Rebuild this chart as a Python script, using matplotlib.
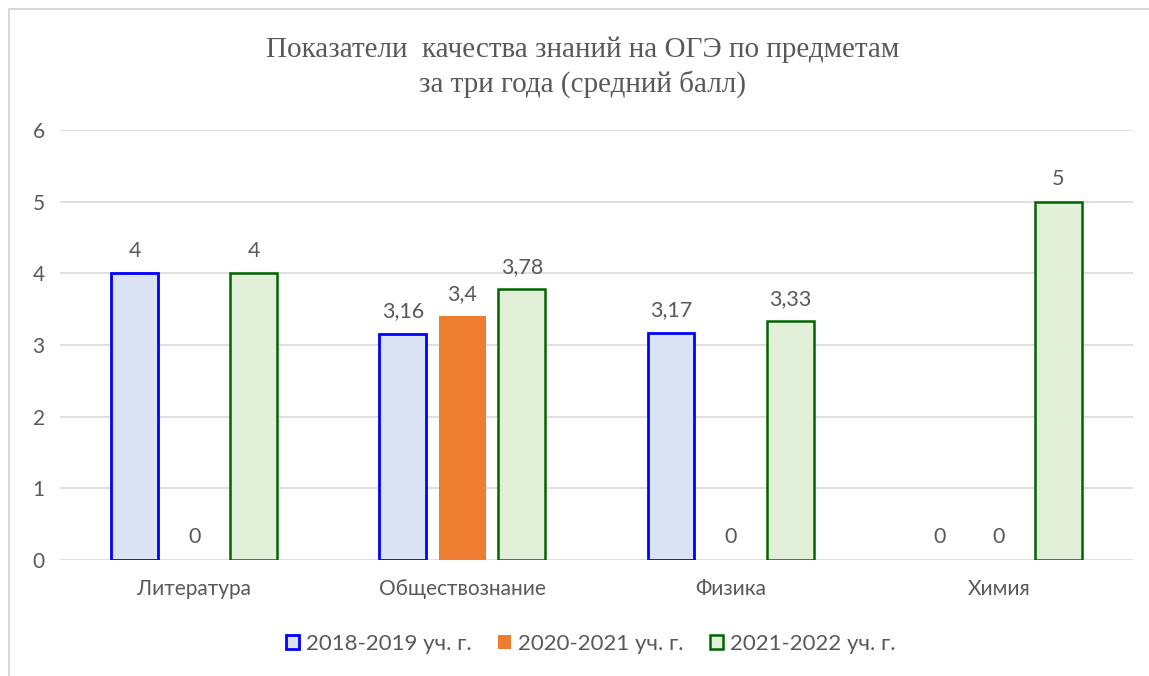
import matplotlib.pyplot as plt
import numpy as np
from matplotlib.patches import Rectangle
from matplotlib.lines import Line2D

# Subjects and average scores per school year
subjects = ["Литература", "Обществознание", "Физика", "Химия"]
years = ["2018-2019 уч. г.", "2020-2021 уч. г.", "2021-2022 уч. г."]
scores_2018 = [4, 3.16, 3.17, 0]
scores_2020 = [0, 3.4, 0, 0]
scores_2021 = [4, 3.78, 3.33, 5]

fills = ["#DAE3F3", "#ED7D31", "#E2F0D9"]
edges = ["#0000FF", "#ED7D31", "#006400"]
edge_w = [2.0, 0.0, 1.8]

text_col = "#595959"
plt.rcParams['font.family'] = ['Lato', 'DejaVu Sans']

fig = plt.figure(figsize=(11.49, 6.76), dpi=100)
ax = fig.add_axes([0.0522, 0.1716, 0.9338, 0.6361])

x = np.arange(len(subjects))
width = 0.175
step = 0.222

for i, vals in enumerate([scores_2018, scores_2020, scores_2021]):
    lw = [edge_w[i] if v > 0 else 0 for v in vals]
    bars = ax.bar(x + (i - 1) * step, vals, width, color=fills[i],
                  edgecolor=edges[i], linewidth=lw, zorder=3)
    labels = [f"{v:g}".replace(".", ",") for v in vals]
    ax.bar_label(bars, labels=labels, padding=9, fontsize=15.5, color=text_col)

ax.set_xlim(-0.5, 3.5)
ax.set_ylim(0, 6)
ax.set_yticks(range(7))
ax.set_xticks(x)
ax.set_xticklabels(subjects)
ax.tick_params(axis="both", length=0, labelsize=15, colors=text_col)
ax.tick_params(axis="x", pad=13.5)
ax.tick_params(axis="y", pad=11)
ax.grid(axis="y", color="#D9D9D9", linewidth=1.2, zorder=0)
for s in ax.spines.values():
    s.set_visible(False)

fig.text(0.507, 0.9, "Показатели  качества знаний на ОГЭ по предметам\nза три года (средний балл)",
         ha="center", va="center", fontsize=21, color=text_col,
         family="Liberation Serif", linespacing=1.33)

handles = [Rectangle((0, 0), 1, 1, facecolor=fills[i], edgecolor=edges[i],
                     linewidth=edge_w[i]) for i in range(3)]
fig.legend(handles, years, loc="center", bbox_to_anchor=(0.514, 0.048), ncol=3,
           frameon=False, fontsize=16, labelcolor=text_col, handlelength=0.6,
           handleheight=0.6, handletextpad=0.3, columnspacing=1.2)

# chart border (top and left visible in the crop)
fig.add_artist(Line2D([0.0078, 1.0], [0.9867, 0.9867], color="#D9D9D9", linewidth=1.5))
fig.add_artist(Line2D([0.0078, 0.0078], [0.0, 0.9867], color="#D9D9D9", linewidth=1.5))

fig.savefig("out.png", dpi=100)
